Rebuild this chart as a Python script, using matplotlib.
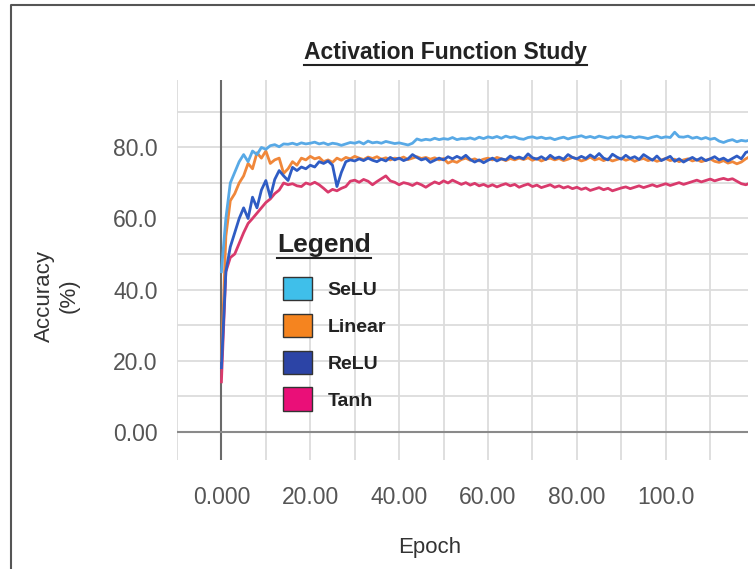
"""Activation function study: validation accuracy per epoch for four activations."""
import matplotlib
matplotlib.use("Agg")
import matplotlib.pyplot as plt
from matplotlib.lines import Line2D
from matplotlib.patches import Patch

plt.rcParams["font.family"] = ["Liberation Sans", "DejaVu Sans"]

# values, one per epoch (0..119)
selu = [45, 60, 70, 73, 76, 78, 76, 79, 78, 80, 79.5, 80.5, 80.8, 80.2, 81, 80.9, 81.2, 80.8, 81.3, 81,
        81.2, 81.5, 81, 81.3, 80.8, 81.2, 81, 80.6, 81, 81.4, 81.2, 81.6, 81, 81.8, 81.3, 81.5, 81.2, 81.7, 81.4, 81.1,
        81.3, 81, 80.7, 81.2, 82.4, 82, 82.3, 82.1, 82.6, 82.2, 82.5, 82.3, 82.8, 82.2, 82.5, 82.4, 82.7, 82.3, 82.9, 82.5,
        83, 82.7, 83.1, 82.6, 83.2, 82.8, 83, 82.5, 82.3, 82.8, 83, 82.6, 82.9, 82.5, 82.7, 82.2, 82.6, 82.9, 82.4, 82.8,
        83, 83.3, 82.8, 83.1, 82.7, 83.2, 82.9, 82.6, 83, 82.8, 83.3, 82.9, 83.1, 82.7, 83, 82.8, 82.5, 82.9, 83.2, 82.7,
        83, 82.8, 84.3, 83, 82.9, 83.2, 82.6, 82.9, 82.4, 82.8, 82.3, 82.6, 81.8, 81.4, 81.9, 82.2, 81.6, 82, 81.8, 82.1]
linear = [20, 55, 65, 67, 70, 72, 75.5, 74, 78.5, 77, 79, 75.5, 76.5, 77, 72.7, 74, 76, 75, 77, 76.5,
          77.5, 76.8, 77.2, 76, 76.5, 75.8, 77, 76.4, 77.2, 76.8, 77.5, 77, 76.6, 77.3, 76.9, 77.4, 76.7, 77.1, 76.5, 77,
          76.8, 77.3, 76.6, 77, 77.4, 76.9, 77.2, 76.7, 77.1, 76.5, 76.9, 75.6, 76.2, 75.8, 76.6, 77, 76.4, 76.8, 76.2, 76.7,
          77, 76.5, 77.2, 76.8, 76.3, 76.9, 76.5, 77, 76.6, 77.1, 76.4, 76.9, 76.2, 76.7, 77, 76.5, 76.9, 76.3, 76.7, 77.2,
          76.8, 76.2, 76.6, 77.3, 76.5, 76.9, 76.3, 76.8, 76.2, 76.6, 77, 76.4, 76.8, 76.1, 76.6, 76.9, 76.3, 76.7, 76.1, 76.5,
          76.9, 76.3, 76.7, 76, 76.5, 76.8, 76.2, 76.6, 76, 76.4, 76.8, 76.1, 75.8, 76.3, 75.6, 76, 75.4, 75.9, 76.8, 77.5]
relu = [18, 45, 52, 56, 60, 63, 60, 66, 63, 68, 70.7, 66, 71, 73.5, 72, 70.7, 74.4, 73.5, 74.5, 74,
        75, 74.5, 76, 75.5, 76.2, 75, 69, 73, 76, 76.5, 76.2, 76.8, 76.3, 77, 76.4, 76, 76.7, 76.2, 77.2, 76.5,
        77, 76.3, 76.8, 78, 77.2, 76.5, 76.9, 75.8, 76.4, 77, 76.5, 77.4, 76.8, 77.5, 76.9, 77.8, 76.6, 75.9, 76.5, 75.7,
        76.4, 77, 76.2, 76.8, 76.5, 77.6, 76.9, 77.3, 76.8, 78.2, 77.1, 76.7, 77.4, 76.6, 77.8, 76.9, 77.3, 76.7, 78, 77.2,
        76.8, 77.5, 76.9, 77.9, 77.1, 78.3, 77, 76.5, 78.1, 77.3, 76.7, 77.8, 76.9, 77.4, 76.6, 78, 77.2, 76.4, 77.6, 76.3,
        76.9, 77.5, 76.1, 76.8, 75.9, 76.6, 77.2, 76.4, 77.1, 76.3, 76.8, 77.4, 76.5, 77, 76.2, 76.9, 77.6, 76.8, 78.6, 79]
tanh = [14, 45, 49, 50, 53, 56, 58.6, 60, 61.5, 63, 64.5, 65.5, 67, 68, 70, 69.5, 69.8, 69.2, 69, 70,
        69.6, 70.2, 69.5, 68.5, 67.4, 68.2, 67.8, 68.5, 69, 70.5, 70.8, 70.2, 71, 70.5, 69.5, 70.4, 71.2, 72, 70.6, 70.2,
        69.5, 70.1, 69.8, 69.3, 70, 69.5, 68.8, 69.6, 70.3, 69.8, 70.6, 70, 70.8, 70.2, 69.6, 70.1, 69.4, 69.9, 69.2, 69.6,
        69, 69.5, 68.9, 69.4, 69.8, 69.2, 69.6, 68.8, 69.3, 69.7, 69, 69.4, 68.7, 69.1, 69.5, 68.8, 69.2, 68.6, 69, 68.4,
        68.8, 68.2, 68.6, 67.9, 68.3, 68.7, 68.1, 68.5, 67.8, 68.2, 68.6, 68.9, 68.4, 68.8, 69.2, 68.7, 69.1, 69.5, 69, 69.4,
        69.8, 69.3, 69.7, 70.1, 69.6, 70, 70.4, 70.8, 70.3, 70.7, 71.1, 70.6, 71, 71.3, 70.9, 71.2, 70.5, 69.8, 69.5, 70]
epochs = list(range(len(selu)))

names = ["SeLU", "Linear", "ReLU", "Tanh"]
line_colors = ["#58a9e6", "#f0873a", "#2f5cc4", "#d93a6c"]
swatch_colors = ["#3fbfea", "#f5841f", "#2c44a6", "#ea0f78"]

x_ticks = [0, 20, 40, 60, 80, 100]
x_labels = ["0.000", "20.00", "40.00", "60.00", "80.00", "100.0"]
y_ticks = [0, 20, 40, 60, 80]
y_labels = ["0.00", "20.0", "40.0", "60.0", "80.0"]

fig = plt.figure(figsize=(7.55, 5.69), dpi=100)
ax = fig.add_axes([0.2344, 0.1916, 0.7563, 0.6678])

ax.set_xlim(-10, 118.5)
ax.set_ylim(-8, 99)
for s in ax.spines.values():
    s.set_visible(False)

# light grid every 10 units, darker zero lines
for gx in range(-10, 120, 10):
    ax.axvline(gx, color="#dcdcdc", lw=1.3, zorder=0)
for gy in range(0, 100, 10):
    ax.axhline(gy, color="#dcdcdc", lw=1.3, zorder=0)
ax.axvline(0, color="#6a6a6a", lw=1.5, zorder=1)
ax.axhline(0, color="#8a8a8a", lw=1.5, zorder=1)

series = [selu, linear, relu, tanh]
zorders = [5, 3, 4, 2]
for vals, c, z in zip(series, line_colors, zorders):
    ax.plot(epochs, vals, color=c, lw=2.0, zorder=z)

ax.set_xticks(x_ticks)
ax.set_xticklabels(x_labels)
ax.set_yticks(y_ticks)
ax.set_yticklabels(y_labels)
ax.tick_params(axis="both", length=0, labelsize=16.5, labelcolor="#555555")
ax.tick_params(axis="x", pad=19)
ax.tick_params(axis="y", pad=14)

handles = [Patch(facecolor=c, edgecolor="#333333", lw=1.0) for c in swatch_colors]
leg = ax.legend(handles, names, loc="upper left", bbox_to_anchor=(0.172, 0.503),
                frameon=False, prop={"weight": "bold", "size": 14},
                handlelength=1.5, handleheight=1.5, handletextpad=0.8,
                labelspacing=0.68, borderaxespad=0)
for t in leg.get_texts():
    t.set_color("#222222")
leg_title = fig.text(277 / 755, 1 - 245 / 569, "Legend", ha="left", va="center",
                     fontsize=19, fontweight="bold", color="#222222")

title = fig.text(445 / 755, 1 - 52 / 569, "Activation Function Study", ha="center", va="center",
                 fontsize=16.5, fontweight="bold", color="#222222")
fig.text(430 / 755, 1 - 548 / 569, "Epoch", ha="center", va="center", fontsize=16, color="#333333")
fig.text(57 / 755, 1 - 296 / 569, "Accuracy\n(%)", ha="center", va="center", rotation=90,
         fontsize=16, color="#333333", linespacing=1.2)

# underline the title and the legend title
fig.canvas.draw()
renderer = fig.canvas.get_renderer()
for t in [title, leg_title]:
    bb = t.get_window_extent(renderer)
    y = bb.y0 - 1
    fig.add_artist(Line2D([bb.x0 / fig.bbox.width, bb.x1 / fig.bbox.width],
                          [y / fig.bbox.height, y / fig.bbox.height],
                          color="#222222", lw=1.5))

# outer frame (top and left edges visible in the crop)
fig.add_artist(Line2D([11 / 755, 11 / 755, 1.0], [0.0, 1 - 5 / 569, 1 - 5 / 569],
                      color="#555555", lw=1.5))

fig.savefig("out.png", dpi=100)
